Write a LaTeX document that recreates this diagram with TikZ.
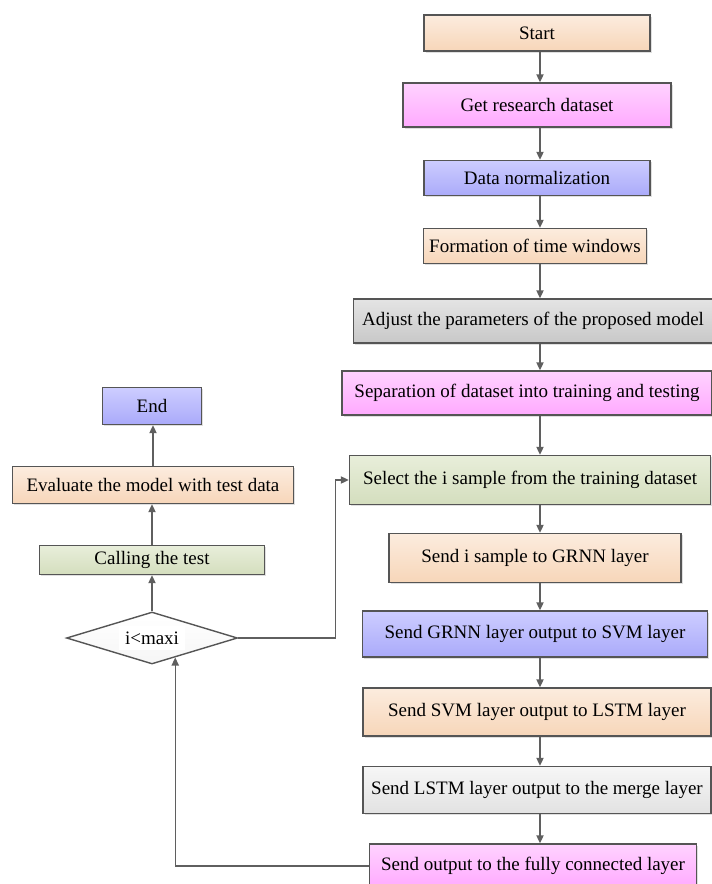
\documentclass[tikz,border=0pt]{standalone}
\usepackage{fontspec}
\setmainfont{Liberation Serif}
\usetikzlibrary{shapes.geometric, arrows.meta, shadows}

\definecolor{boxline}{RGB}{85,85,85}
\definecolor{arrowgray}{RGB}{95,95,95}
\definecolor{peachtop}{RGB}{252,236,222}
\definecolor{peachbot}{RGB}{247,214,185}
\definecolor{pinktop}{RGB}{255,210,255}
\definecolor{pinkbot}{RGB}{255,170,255}
\definecolor{bluetop}{RGB}{205,205,255}
\definecolor{bluebot}{RGB}{170,170,250}
\definecolor{graytop}{RGB}{228,228,228}
\definecolor{graybot}{RGB}{200,200,200}
\definecolor{greentop}{RGB}{232,238,218}
\definecolor{greenbot}{RGB}{212,222,190}
\definecolor{lighttop}{RGB}{246,246,246}
\definecolor{lightbot}{RGB}{226,226,226}

\tikzset{
  flowbox/.style={
    draw=boxline, line width=0.7pt, align=center,
    font=\fontsize{9.5}{11}\selectfont, inner sep=2pt,
    drop shadow={opacity=0.25, shadow xshift=0.8pt, shadow yshift=-0.8pt}
  },
  peachbox/.style={flowbox, top color=peachtop, bottom color=peachbot},
  pinkbox/.style={flowbox, top color=pinktop, bottom color=pinkbot},
  bluebox/.style={flowbox, top color=bluetop, bottom color=bluebot},
  graybox/.style={flowbox, top color=graytop, bottom color=graybot},
  greenbox/.style={flowbox, top color=greentop, bottom color=greenbot},
  lightbox/.style={flowbox, top color=lighttop, bottom color=lightbot},
  decision/.style={
    diamond, draw=boxline, line width=0.7pt, aspect=3.3, inner sep=0pt,
    top color=white, bottom color=lighttop,
    font=\fontsize{9.5}{11}\selectfont
  },
  flowarrow/.style={
    -{Triangle[length=4pt,width=3.6pt]}, line width=0.7pt, draw=arrowgray
  },
}

\begin{document}
\begin{tikzpicture}[x=0.5pt, y=-0.5pt]
  \useasboundingbox (0,0) rectangle (712,884);

  % Main column
  \node[peachbox, minimum width=113pt, minimum height=18pt] (start) at (537,33) {Start};
  \node[pinkbox, minimum width=134pt, minimum height=22pt] (getdata) at (537,105) {Get research dataset};
  \node[bluebox, minimum width=113pt, minimum height=17.5pt] (norm) at (537,178) {Data normalization};
  \node[peachbox, minimum width=111.5pt, minimum height=17.5pt] (windows) at (535,246) {Formation of time windows};
  \node[graybox, minimum width=179.5pt, minimum height=22pt] (adjust) at (533,321) {Adjust the parameters of the proposed model};
  \node[pinkbox, minimum width=185pt, minimum height=22pt] (separate) at (527,393) {Separation of dataset into training and testing};
  \node[greenbox, minimum width=180.5pt, minimum height=24.5pt] (select) at (530,480) {Select the i sample from the training dataset};
  \node[peachbox, minimum width=146pt, minimum height=24.5pt] (sendgrnn) at (535,558) {Send i sample to GRNN layer};
  \node[bluebox, minimum width=172.5pt, minimum height=23pt] (grnnsvm) at (535,634) {Send GRNN layer output to SVM layer};
  \node[peachbox, minimum width=174pt, minimum height=24pt] (svmlstm) at (537,712) {Send SVM layer output to LSTM layer};
  \node[lightbox, minimum width=174pt, minimum height=23.5pt] (lstmmerge) at (537,790) {Send LSTM layer output to the merge layer};
  \node[pinkbox, minimum width=163.5pt, minimum height=22pt] (fully) at (533,866) {Send output to the fully connected layer};

  % Test branch
  \node[bluebox, minimum width=49.5pt, minimum height=18.5pt] (theend) at (152,406) {End};
  \node[peachbox, minimum width=140.5pt, minimum height=18.5pt] (evaluate) at (153,485) {Evaluate the model with test data};
  \node[greenbox, minimum width=112.5pt, minimum height=14.5pt] (calltest) at (152,560) {Calling the test};
  \node[decision, minimum width=85.5pt, minimum height=26pt] (loop) at (152,638) {\colorbox{white}{i<maxi}};

  % Connectors
  \coordinate (col) at (540,0);
  \foreach \a/\b in {start/getdata, getdata/norm, norm/windows, windows/adjust,
    adjust/separate, separate/select, select/sendgrnn, sendgrnn/grnnsvm,
    grnnsvm/svmlstm, svmlstm/lstmmerge, lstmmerge/fully}
    \draw[flowarrow] (\a.south -| col) -- (\b.north -| col);
  \foreach \a/\b in {loop/calltest, calltest/evaluate, evaluate/theend}
    \draw[flowarrow] (\a.north) -- (\a.north |- \b.south);
  \draw[flowarrow] (loop.east) -- ++(97,0) |- (select.west);
  \draw[flowarrow] (fully.west) -| (loop.-40);
\end{tikzpicture}
\end{document}
